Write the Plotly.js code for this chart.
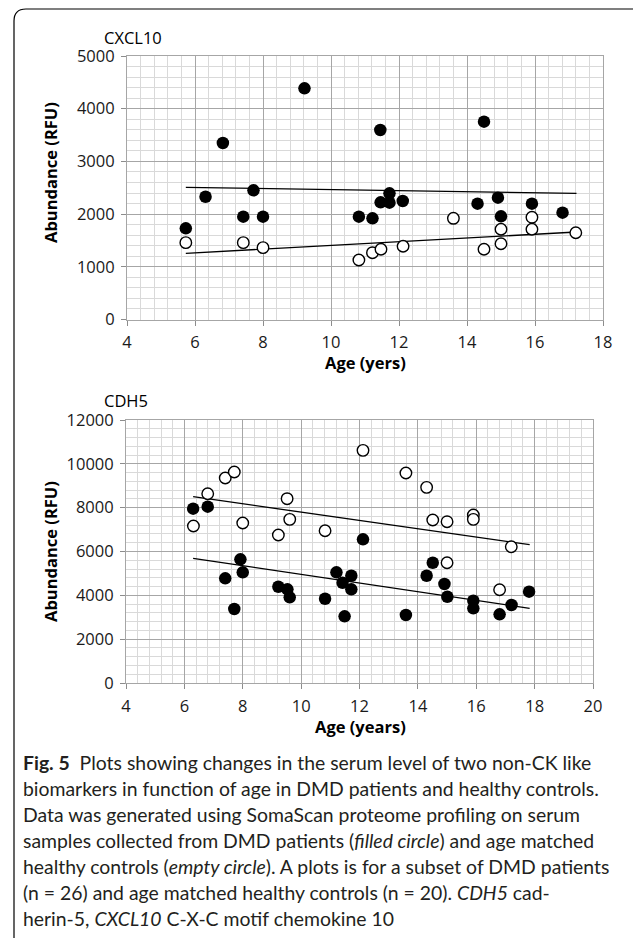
<!DOCTYPE html>
<html>
<head>
<meta charset="utf-8">
<script src="https://cdn.plot.ly/plotly-3.0.1.min.js"></script>
<style>html,body{margin:0;padding:0;background:#fff;}#chart{width:633px;height:938px;}</style>
</head>
<body>
<div id="chart"></div>
<script>
// ---- CXCL10 (top panel) ----
const cxclDmdAge = [5.73, 6.31, 6.82, 7.42, 7.72, 8.0, 9.22, 10.82, 11.22, 11.45, 11.46, 11.72, 11.72, 12.11, 14.31, 14.5, 14.91, 15.0, 15.91, 16.81];
const cxclDmdVal = [1730, 2330, 3349, 1951, 2451, 1951, 4387, 1951, 1920, 3596, 2224, 2394, 2217, 2249, 2198, 3754, 2312, 1958, 2198, 2027];
const cxclCtrlAge = [5.73, 7.42, 8.0, 10.82, 11.22, 11.47, 12.12, 13.6, 14.5, 15.0, 15.0, 15.91, 15.91, 17.2];
const cxclCtrlVal = [1458, 1458, 1363, 1129, 1268, 1332, 1389, 1920, 1332, 1712, 1438, 1939, 1712, 1647];
const cxclDmdTrendAge = [5.73, 17.22];
const cxclDmdTrendVal = [2509, 2394];
const cxclCtrlTrendAge = [5.73, 17.22];
const cxclCtrlTrendVal = [1256, 1660];

// ---- CDH5 (bottom panel) ----
const cdhDmdAge = [6.30, 6.80, 7.40, 7.71, 7.92, 8.0, 9.22, 9.53, 9.61, 10.82, 11.21, 11.42, 11.49, 11.72, 11.72, 12.12, 13.59, 14.30, 14.51, 14.91, 15.01, 15.90, 15.90, 16.80, 17.21, 17.81];
const cdhDmdVal = [7953, 8044, 4776, 3376, 5643, 5050, 4393, 4275, 3910, 3846, 5050, 4576, 3043, 4895, 4275, 6556, 3102, 4895, 5488, 4516, 3937, 3755, 3407, 3133, 3558, 4166];
const cdhCtrlAge = [6.31, 6.80, 7.40, 7.71, 8.0, 9.22, 9.52, 9.61, 10.82, 12.12, 13.59, 14.30, 14.51, 15.0, 15.0, 15.9, 15.9, 16.80, 17.2];
const cdhCtrlVal = [7162, 8637, 9352, 9626, 7299, 6752, 8410, 7467, 6949, 10615, 9580, 8926, 7436, 7360, 5488, 7664, 7467, 4257, 6218];
const cdhDmdTrendAge = [6.30, 17.83];
const cdhDmdTrendVal = [5689, 3407];
const cdhCtrlTrendAge = [6.30, 17.83];
const cdhCtrlTrendVal = [8500, 6310];

// ---- texts ----
const panelTitles = ['CXCL10', 'CDH5'];
const yTitle = 'Abundance (RFU)';
const xTitles = ['Age (yers)', 'Age (years)'];
const captionLines = [
  '<b>Fig. 5</b>  Plots showing changes in the serum level of two non-CK like',
  'biomarkers in function of age in DMD patients and healthy controls.',
  'Data was generated using SomaScan proteome profiling on serum',
  'samples collected from DMD patients (<i>filled circle</i>) and age matched',
  'healthy controls (<i>empty circle</i>). A plots is for a subset of DMD patients',
  '(n = 26) and age matched healthy controls (n = 20). <i>CDH5</i> cad-',
  'herin-5, <i>CXCL10</i> C-X-C motif chemokine 10'
];

const W = 633, H = 938;
const px = x => x / W;
const py = y => 1 - y / H;

const filled = {color: '#000', size: 12.5, line: {width: 0}};
const empty = {color: '#fff', size: 11.5, line: {color: '#000', width: 1.4}};
const trend = {color: '#000', width: 1.3};

const traces = [
  {x: cxclDmdTrendAge, y: cxclDmdTrendVal, mode: 'lines', line: trend, xaxis: 'x', yaxis: 'y'},
  {x: cxclCtrlTrendAge, y: cxclCtrlTrendVal, mode: 'lines', line: trend, xaxis: 'x', yaxis: 'y'},
  {x: cxclDmdAge, y: cxclDmdVal, mode: 'markers', marker: filled, xaxis: 'x', yaxis: 'y'},
  {x: cxclCtrlAge, y: cxclCtrlVal, mode: 'markers', marker: empty, xaxis: 'x', yaxis: 'y'},
  {x: cdhDmdTrendAge, y: cdhDmdTrendVal, mode: 'lines', line: trend, xaxis: 'x2', yaxis: 'y2'},
  {x: cdhCtrlTrendAge, y: cdhCtrlTrendVal, mode: 'lines', line: trend, xaxis: 'x2', yaxis: 'y2'},
  {x: cdhDmdAge, y: cdhDmdVal, mode: 'markers', marker: filled, xaxis: 'x2', yaxis: 'y2'},
  {x: cdhCtrlAge, y: cdhCtrlVal, mode: 'markers', marker: empty, xaxis: 'x2', yaxis: 'y2'}
];

const FONT = '"Open Sans", "Noto Sans", sans-serif';
const tickFont = {family: FONT, size: 16.5, color: '#1a1a1a'};
const majorGrid = '#a6a6a6';
const minorGrid = '#d9d9d9';

function axis(domain, range, dtick, minorDtick, anchor) {
  return {
    domain: domain, range: range, dtick: dtick, tick0: 0, tickformat: 'd',
    showgrid: true, gridcolor: majorGrid, gridwidth: 1,
    minor: {dtick: minorDtick, tick0: 0, showgrid: true, gridcolor: minorGrid, gridwidth: 1, ticks: ''},
    showline: true, linecolor: majorGrid, linewidth: 1, mirror: true,
    ticks: 'outside', ticklen: 5, tickcolor: '#8c8c8c', tickwidth: 1,
    zeroline: false, tickfont: tickFont, anchor: anchor, fixedrange: true,
    ticklabelstandoff: 3
  };
}

const ann = [];
ann.push({text: panelTitles[0], x: px(102), y: py(37), xanchor: 'left', yanchor: 'middle'});
ann.push({text: panelTitles[1], x: px(102), y: py(401), xanchor: 'left', yanchor: 'middle'});
ann.push({text: '<b>' + yTitle + '</b>', x: px(50), y: py(173), textangle: -90, xanchor: 'center', yanchor: 'middle'});
ann.push({text: '<b>' + yTitle + '</b>', x: px(50), y: py(552), textangle: -90, xanchor: 'center', yanchor: 'middle'});
ann.push({text: '<b>' + xTitles[0] + '</b>', x: px(365), y: py(362), xanchor: 'center', yanchor: 'middle'});
ann.push({text: '<b>' + xTitles[1] + '</b>', x: px(360), y: py(726), xanchor: 'center', yanchor: 'middle'});
ann.forEach(a => { a.xref = 'paper'; a.yref = 'paper'; a.showarrow = false;
  a.font = {family: FONT, size: 16.5, color: '#000'}; });

const capY0 = 762, capStep = 26.1;
captionLines.forEach((t, i) => {
  ann.push({text: t, x: px(21), y: py(capY0 + i * capStep), xref: 'paper', yref: 'paper',
    xanchor: 'left', yanchor: 'middle', showarrow: false,
    font: {family: 'Lato, sans-serif', size: 19.4, color: '#231f20'}});
});

const framePath = 'M ' + px(14) + ',' + py(938) + ' L ' + px(14) + ',' + py(21) +
  ' Q ' + px(14) + ',' + py(9) + ' ' + px(26) + ',' + py(9) + ' L ' + px(633) + ',' + py(9);

const layout = {
  width: W, height: H, margin: {l: 0, r: 0, t: 0, b: 0},
  paper_bgcolor: '#fff', plot_bgcolor: '#fff', showlegend: false,
  xaxis: axis([px(127), px(603)], [4, 18], 2, 0.4, 'y'),
  yaxis: axis([py(319.5), py(56)], [0, 5000], 1000, 200, 'x'),
  xaxis2: axis([px(126), px(593)], [4, 20], 2, 0.4, 'y2'),
  yaxis2: axis([py(683), py(420)], [0, 12000], 2000, 400, 'x2'),
  annotations: ann,
  shapes: [{type: 'path', path: framePath, xref: 'paper', yref: 'paper', line: {color: '#000', width: 1.2}}]
};

Plotly.newPlot('chart', traces, layout, {staticPlot: true, displayModeBar: false});
</script>
</body>
</html>
